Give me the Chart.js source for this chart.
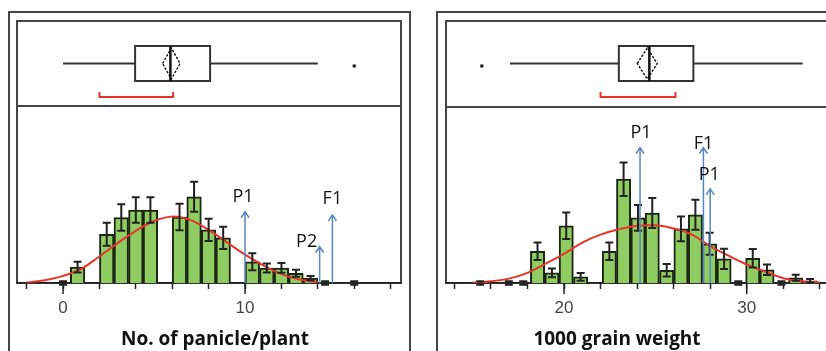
<!DOCTYPE html>
<html>
<head>
<meta charset="utf-8">
<script src="https://cdn.jsdelivr.net/npm/chart.js@4.4.1/dist/chart.umd.min.js"></script>
<style>
  html, body { margin: 0; padding: 0; background: #fff; }
  body { position: relative; width: 826px; height: 351px; overflow: hidden; }
  canvas { position: absolute; top: 0; }
  #panicleChart { left: 0; }
  #grainChart { left: 420px; }
  .axis-title {
    position: absolute; top: 327px; transform: translateX(-50%);
    font: bold 19px "Open Sans", sans-serif; line-height: 22px; color: #111; white-space: nowrap;
  }
</style>
</head>
<body>
<canvas id="panicleChart" width="413" height="351"></canvas>
<canvas id="grainChart" width="440" height="351"></canvas>
<div class="axis-title" style="left:215px">No. of panicle/plant</div>
<div class="axis-title" style="left:617px">1000 grain weight</div>

<script>
// ---- No. of panicle/plant ----
const panicleBins = [0, 0.8, 2.4, 3.2, 4.0, 4.8, 6.4, 7.2, 8.0, 8.8, 10.4, 11.2, 12.0, 12.8, 13.6, 14.4, 16.0];
const panicleFreq = [0, 1.8, 5.5, 7.4, 8.25, 8.25, 7.45, 9.75, 6.0, 5.1, 2.4, 1.7, 1.7, 1.1, 0.55, 0, 0];
const panicleErr = [0.2, 0.6, 1.3, 1.5, 1.45, 1.45, 1.5, 1.7, 1.25, 1.25, 0.95, 0.5, 0.55, 0.4, 0.25, 0.2, 0.2];
const panicleCurveX = [-2, -1, 0, 1, 2, 3, 4, 5, 6, 7, 8, 9, 10, 11, 12, 13, 14];
const panicleCurveY = [0.05, 0.3, 0.8, 1.6, 3.0, 4.5, 5.9, 7.0, 7.5, 7.1, 6.0, 4.6, 3.2, 2.0, 1.0, 0.4, 0.05];
const panicleTickLabels = [0, 10];
const panicleBox = [0, 3.96, 5.9, 8.08, 14.0];   // whisker lo, q1, median, q3, whisker hi
const panicleMeanDiamond = [5.47, 6.43];
const panicleShortestHalf = [2.0, 6.05];
const panicleOutliers = [16];
const panicleArrowX = [10, 14.1, 14.8];
const panicleArrowTop = [8.05, 4.1, 7.7];
const panicleArrowLabels = ['P1', 'P2', 'F1'];

// ---- 1000 grain weight ----
const grainBins = [15.41, 16.98, 17.77, 18.55, 19.34, 20.12, 20.91, 22.48, 23.26, 24.05, 24.83, 25.62,
                   26.40, 27.19, 27.97, 28.76, 29.54, 30.33, 31.11, 31.90, 32.68, 33.47];
const grainFreq = [0, 0, 0, 3.6, 1.15, 6.5, 0.7, 3.6, 11.8, 7.4, 7.95, 1.45,
                   6.15, 7.75, 4.45, 2.75, 0, 2.8, 1.5, 0, 0.6, 0.25];
const grainErr = [0.2, 0.2, 0.2, 1.0, 0.5, 1.5, 0.45, 1.0, 1.9, 1.45, 1.7, 0.7,
                  1.4, 1.7, 1.25, 1.15, 0.2, 1.05, 0.6, 0.2, 0.35, 0.2];
const grainCurveX = [15, 16, 17, 18, 19, 20, 21, 22, 23, 24, 25, 26, 27, 28, 29, 30, 31, 32, 33, 34];
const grainCurveY = [0.05, 0.2, 0.5, 1.15, 2.2, 3.3, 4.6, 5.5, 6.1, 6.5, 6.55, 6.2, 5.5, 4.2, 3.1, 2.1, 1.3, 0.55, 0.2, 0.05];
const grainTickLabels = [20, 30];
const grainBox = [17.04, 23.0, 24.67, 27.08, 33.06];
const grainMeanDiamond = [24.01, 25.1];
const grainShortestHalf = [22.0, 26.1];
const grainOutliers = [15.5];
const grainArrowX = [24.16, 27.63, 28.0];
const grainArrowTop = [15.4, 15.4, 10.7];
const grainArrowLabels = ['P1', 'F1', 'P1'];

const FRAME = '#454545';
const INK = '#222';
const GREEN = 'rgb(143, 204, 98)';
const BAR_EDGE = '#1b2615';
const RED = '#e5352b';
const BLUE = '#5b86c4';

// frames, error bars, box plot strip and arrows
const panelExtras = {
    id: 'panelExtras',
    beforeDraw(chart, args, opts) {
        const { ctx, chartArea: a } = chart;
        ctx.save();
        ctx.strokeStyle = FRAME;
        ctx.lineWidth = 2;
        ctx.beginPath();
        ctx.moveTo(opts.outer.left, chart.height);
        ctx.lineTo(opts.outer.left, opts.outer.top);
        ctx.lineTo(opts.outer.right, opts.outer.top);
        ctx.lineTo(opts.outer.right, chart.height);
        ctx.stroke();
        ctx.strokeRect(a.left, opts.innerTop, a.right - a.left, a.bottom - opts.innerTop);
        ctx.beginPath();
        ctx.moveTo(a.left, a.top);
        ctx.lineTo(a.right, a.top);
        ctx.stroke();
        ctx.restore();
    },
    afterDatasetsDraw(chart, args, opts) {
        const { ctx } = chart;
        const y = chart.scales.y;
        const values = chart.data.datasets[0].data;
        ctx.save();
        ctx.strokeStyle = INK;
        ctx.lineWidth = 2;
        chart.getDatasetMeta(0).data.forEach((bar, i) => {
            const v = values[i].y;
            const e = opts.err[i];
            const top = y.getPixelForValue(v + e);
            const bot = y.getPixelForValue(v - e);
            ctx.beginPath();
            ctx.moveTo(bar.x, top); ctx.lineTo(bar.x, bot);
            ctx.moveTo(bar.x - 4, top); ctx.lineTo(bar.x + 4, top);
            ctx.moveTo(bar.x - 4, bot); ctx.lineTo(bar.x + 4, bot);
            ctx.stroke();
        });
        ctx.restore();
    },
    afterDraw(chart, args, opts) {
        const { ctx, chartArea: a } = chart;
        const x = chart.scales.x;
        const y = chart.scales.y;
        const px = v => x.getPixelForValue(v);
        ctx.save();

        // longer ticks at labelled values
        ctx.strokeStyle = INK;
        ctx.lineWidth = 1.5;
        opts.majorTicks.forEach(v => {
            ctx.beginPath();
            ctx.moveTo(px(v), a.bottom);
            ctx.lineTo(px(v), a.bottom + 11);
            ctx.stroke();
        });

        // box plot strip
        const [lo, q1, med, q3, hi] = opts.box;
        const b = opts.boxY;
        ctx.strokeStyle = '#333';
        ctx.lineWidth = 2;
        ctx.beginPath();
        ctx.moveTo(px(lo), b.mid); ctx.lineTo(px(q1), b.mid);
        ctx.moveTo(px(q3), b.mid); ctx.lineTo(px(hi), b.mid);
        ctx.stroke();
        ctx.strokeRect(px(q1), b.top, px(q3) - px(q1), b.bottom - b.top);
        ctx.lineWidth = 2.5;
        ctx.strokeStyle = '#111';
        ctx.beginPath();
        ctx.moveTo(px(med), b.top); ctx.lineTo(px(med), b.bottom);
        ctx.stroke();
        const [mLo, mHi] = opts.mean;
        const mC = (mLo + mHi) / 2;
        ctx.lineWidth = 1.4;
        ctx.setLineDash([2.5, 1.5]);
        ctx.beginPath();
        ctx.moveTo(px(mLo), b.mid);
        ctx.lineTo(px(mC), b.top + 2);
        ctx.lineTo(px(mHi), b.mid);
        ctx.lineTo(px(mC), b.bottom - 2);
        ctx.closePath();
        ctx.stroke();
        ctx.setLineDash([]);
        ctx.fillStyle = '#111';
        opts.outliers.forEach(v => ctx.fillRect(px(v) - 1.5, b.dot - 1.5, 3, 3));
        const [sLo, sHi] = opts.shortest;
        ctx.strokeStyle = RED;
        ctx.lineWidth = 2;
        ctx.beginPath();
        ctx.moveTo(px(sLo), b.bracket - 5);
        ctx.lineTo(px(sLo), b.bracket);
        ctx.lineTo(px(sHi), b.bracket);
        ctx.lineTo(px(sHi), b.bracket - 5);
        ctx.stroke();

        // parent / F1 arrows
        ctx.strokeStyle = BLUE;
        ctx.lineWidth = 1.5;
        ctx.fillStyle = '#111';
        ctx.font = '18px "Open Sans", sans-serif';
        ctx.textAlign = 'center';
        ctx.textBaseline = 'middle';
        const base = y.getPixelForValue(0);
        opts.arrowX.forEach((v, i) => {
            const ax = px(v);
            const tip = y.getPixelForValue(opts.arrowTop[i]);
            ctx.beginPath();
            ctx.moveTo(ax, base); ctx.lineTo(ax, tip);
            ctx.moveTo(ax - 4, tip + 6); ctx.lineTo(ax, tip); ctx.lineTo(ax + 4, tip + 6);
            ctx.stroke();
            const [dx, dy] = opts.labelOffset[i];
            ctx.fillText(opts.arrowLabels[i], ax + dx, tip + dy);
        });
        ctx.restore();
    }
};

function makePanel(canvasId, p) {
    return new Chart(document.getElementById(canvasId), {
        type: 'bar',
        data: {
            datasets: [
                {
                    data: p.bins.map((b, i) => ({ x: b, y: p.freq[i] })),
                    backgroundColor: GREEN,
                    borderColor: BAR_EDGE,
                    borderWidth: 2,
                    barPercentage: 1,
                    categoryPercentage: 1,
                    order: 2
                },
                {
                    type: 'line',
                    data: p.curveX.map((c, i) => ({ x: c, y: p.curveY[i] })),
                    borderColor: RED,
                    borderWidth: 2,
                    pointRadius: 0,
                    tension: 0.4,
                    fill: false,
                    order: 1
                }
            ]
        },
        options: {
            responsive: false,
            animation: false,
            devicePixelRatio: 1,
            layout: { padding: p.padding },
            plugins: {
                legend: { display: false },
                tooltip: { enabled: false },
                panelExtras: {
                    outer: p.outer,
                    innerTop: 21,
                    err: p.err,
                    majorTicks: p.tickLabels,
                    box: p.box,
                    boxY: { top: 46, bottom: 81, mid: 63.5, dot: 66, bracket: 97 },
                    mean: p.mean,
                    shortest: p.shortest,
                    outliers: p.outliers,
                    arrowX: p.arrowX,
                    arrowTop: p.arrowTop,
                    arrowLabels: p.arrowLabels,
                    labelOffset: p.labelOffset
                }
            },
            scales: {
                x: {
                    type: 'linear',
                    min: p.xMin,
                    max: p.xMax,
                    offset: false,
                    afterFit: scale => { scale.height = 68; },
                    border: { display: true, color: INK, width: 1.5 },
                    grid: {
                        display: true, drawOnChartArea: false, drawTicks: true, offset: false,
                        tickLength: 6, tickColor: INK, tickWidth: 1.5
                    },
                    ticks: {
                        stepSize: 2,
                        autoSkip: false,
                        includeBounds: false,
                        maxRotation: 0,
                        padding: 9,
                        color: '#474747',
                        font: { family: '"Liberation Sans", Arial, sans-serif', size: 17 },
                        callback: v => (p.tickLabels.includes(v) ? String(v) : '')
                    }
                },
                y: { display: false, min: 0, max: 20 }
            }
        },
        plugins: [panelExtras]
    });
}

makePanel('panicleChart', {
    bins: panicleBins, freq: panicleFreq, err: panicleErr,
    curveX: panicleCurveX, curveY: panicleCurveY,
    tickLabels: panicleTickLabels,
    box: panicleBox, mean: panicleMeanDiamond, shortest: panicleShortestHalf, outliers: panicleOutliers,
    arrowX: panicleArrowX, arrowTop: panicleArrowTop, arrowLabels: panicleArrowLabels,
    labelOffset: [[-2, -15], [-13, -5], [0, -16]],
    xMin: -2.53, xMax: 18.57,
    padding: { left: 17, right: 12, top: 106, bottom: 0 },
    outer: { left: 9, right: 410, top: 12 }
});

makePanel('grainChart', {
    bins: grainBins, freq: grainFreq, err: grainErr,
    curveX: grainCurveX, curveY: grainCurveY,
    tickLabels: grainTickLabels,
    box: grainBox, mean: grainMeanDiamond, shortest: grainShortestHalf, outliers: grainOutliers,
    arrowX: grainArrowX, arrowTop: grainArrowTop, arrowLabels: grainArrowLabels,
    labelOffset: [[1, -15], [0, -4], [-1, -14]],
    xMin: 13.54, xMax: 35.16,
    padding: { left: 26, right: 19, top: 107, bottom: 0 },
    outer: { left: 17, right: 1000, top: 12 }
});
</script>
</body>
</html>
